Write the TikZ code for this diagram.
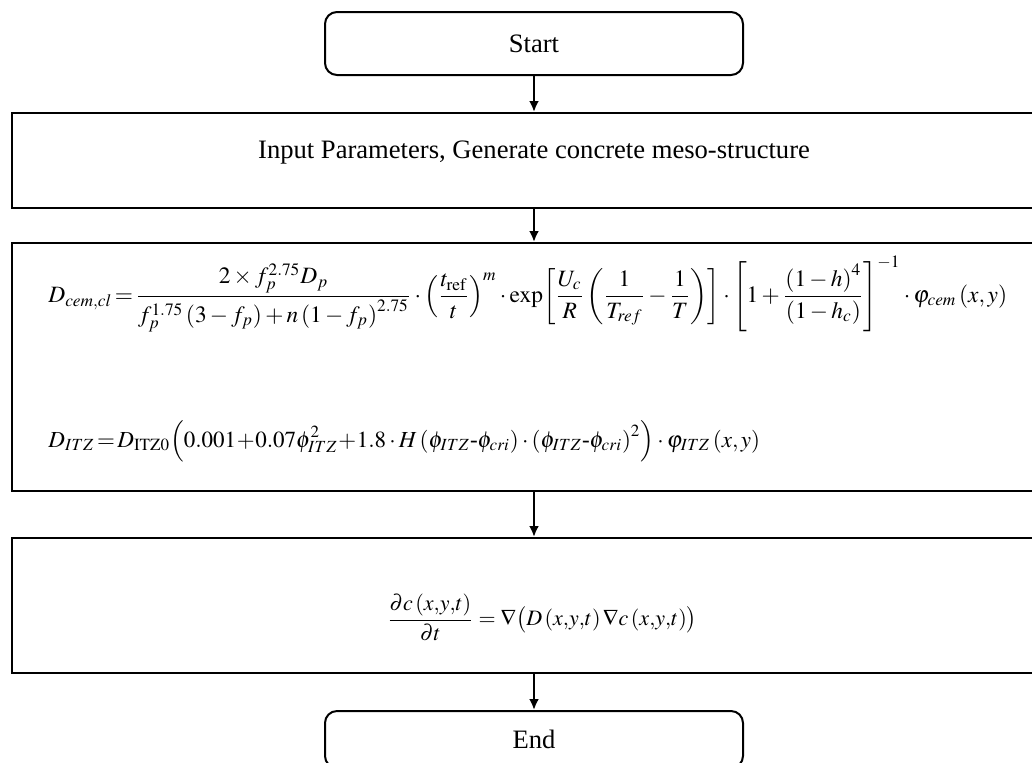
\documentclass[tikz,border=0pt]{standalone}
\usepackage{amsmath,amssymb}
\usepackage{mathptmx}
\usepackage[no-math]{fontspec}
\setmainfont{Liberation Serif}
\usetikzlibrary{arrows.meta,positioning}

\begin{document}
\begin{tikzpicture}[
  node distance=18pt,
  box/.style={draw,line width=1pt,inner sep=0pt,align=center,font=\fontsize{13.3}{15}\selectfont},
  term/.style={box,rounded corners=6pt,minimum width=209pt,minimum height=31.5pt},
  stage/.style={box,minimum width=522pt},
  eqn/.style={inner sep=0pt,font=\fontsize{#1}{14}\selectfont},
  arr/.style={-{Latex[length=1.9mm,width=1.7mm]},line width=1.2pt}
]
\useasboundingbox (0,0) rectangle (516pt,-381pt);
\node[term] (start) at (267pt,-21.75pt) {Start};
\node[stage, minimum height=47.5pt, below=18pt of start] (input) {};
\node[inner sep=0pt, font=\fontsize{13.3}{15}\selectfont, yshift=4pt] (inputtxt) at (input) {Input Parameters, Generate concrete meso-structure};
\node[stage, minimum height=124pt, below=16.5pt of input] (diff) {};
\node[stage, minimum height=67.5pt, below=22.5pt of diff] (pde) {};
\node[term, minimum height=28.5pt, below=18pt of pde] (end) {End};

% diffusion coefficients
\node[eqn=11.7, anchor=west] (dcem) at (24pt,-147pt) {$\displaystyle
  D_{cem,cl}\!=\!\frac{2\times f_p^{2.75}D_p}{f_p^{1.75}\left(3-f_p\right)+n\left(1-f_p\right)^{2.75}}
  \cdot\left(\frac{t_{\mathrm{ref}}}{t}\right)^{m}
  \cdot\exp\!\left[\frac{U_c}{R}\left(\frac{1}{T_{ref}}-\frac{1}{T}\right)\right]
  \cdot\left[1+\frac{\left(1-h\right)^4}{\left(1-h_c\right)}\right]^{-1}
  \cdot\varphi_{cem}\left(x,y\right)$};
\node[eqn=11.5, anchor=base west] (ditz) at (24pt,-223.5pt) {$\displaystyle
  D_{ITZ}\!=\!D_{\mathrm{ITZ0}}\Bigl(0.001\!+\!0.07\phi_{ITZ}^2\!+\!1.8\cdot H\left(\phi_{ITZ}\text{-}\phi_{cri}\right)
  \cdot\left(\phi_{ITZ}\text{-}\phi_{cri}\right)^2\Bigr)\cdot\varphi_{ITZ}\left(x,y\right)$};
% transport equation
\node[eqn=11, xshift=4pt, yshift=-6pt] (fick) at (pde) {$\displaystyle
  \frac{\partial c\left(x{,}y{,}t\right)}{\partial t}=\nabla\bigl(D\left(x{,}y{,}t\right)\nabla c\left(x{,}y{,}t\right)\bigr)$};

\draw[arr] (start) -- (input);
\draw[arr] (input) -- (diff);
\draw[arr] (diff) -- (pde);
\draw[arr] (pde) -- (end);
\end{tikzpicture}
\end{document}
